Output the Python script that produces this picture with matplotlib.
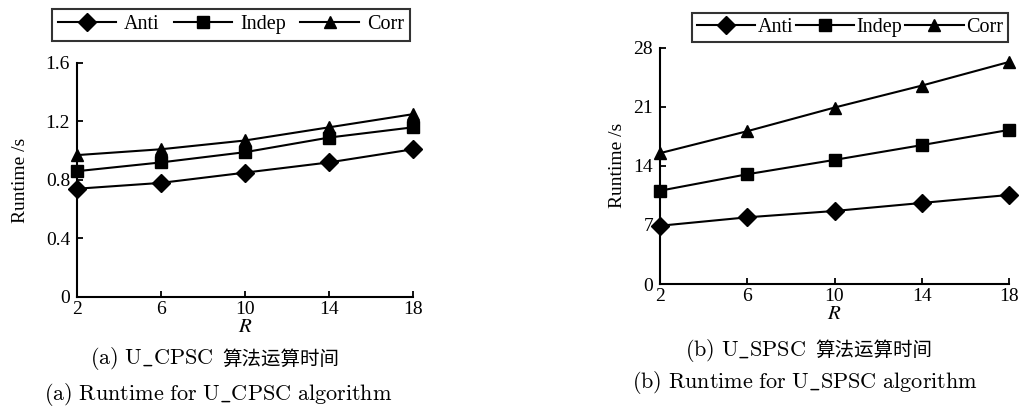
import numpy as np
import matplotlib
matplotlib.use("Agg")
import matplotlib.pyplot as plt

plt.rcParams['font.family'] = ['Liberation Serif', 'Noto Sans CJK SC', 'DejaVu Sans']
plt.rcParams['mathtext.fontset'] = 'stix'

R = [2, 6, 10, 14, 18]
series_names = ["Anti", "Indep", "Corr"]

# U_CPSC runtime (s)
cpsc_anti = [0.74, 0.78, 0.85, 0.92, 1.01]
cpsc_indep = [0.86, 0.92, 0.99, 1.09, 1.16]
cpsc_corr = [0.97, 1.01, 1.07, 1.16, 1.25]

# U_SPSC runtime (s)
spsc_anti = [6.9, 7.9, 8.65, 9.6, 10.55]
spsc_indep = [11.05, 13.0, 14.7, 16.45, 18.25]
spsc_corr = [15.5, 18.1, 20.9, 23.5, 26.3]

cpsc_yticks = [0, 0.4, 0.8, 1.2, 1.6]
cpsc_ylabels = ["0", "0.4", "0.8", "1.2", "1.6"]
spsc_yticks = [0, 7, 14, 21, 28]

markers = ['D', 's', '^']


def draw_panel(ax, data, yticks, ylabels, ylim):
    lines = []
    for vals, m in zip(data, markers):
        ln, = ax.plot(R, vals, color='black', lw=1.5, marker=m, markersize=9,
                      clip_on=False, zorder=3)
        lines.append(ln)
    ax.set_xlim(2, 18)
    ax.set_ylim(*ylim)
    ax.set_xticks(R)
    ax.set_yticks(yticks)
    ax.set_yticklabels(ylabels)
    ax.spines['top'].set_visible(False)
    ax.spines['right'].set_visible(False)
    for s in ('left', 'bottom'):
        ax.spines[s].set_linewidth(1.5)
    ax.tick_params(direction='in', length=4, width=1.3, labelsize=14)
    ax.tick_params(axis='y', pad=5)
    ax.tick_params(axis='x', pad=3)
    ax.set_xlabel("$R$", fontsize=15, labelpad=0)
    ax.set_ylabel("Runtime /s", fontsize=14)
    return lines


fig = plt.figure(figsize=(10.19, 4.09), dpi=100)

ax1 = fig.add_axes([0.0756, 0.274, 0.3297, 0.572])
h1 = draw_panel(ax1, [cpsc_anti, cpsc_indep, cpsc_corr], cpsc_yticks, cpsc_ylabels, (0, 1.6))
ax1.yaxis.labelpad = 12

ax2 = fig.add_axes([0.6477, 0.3056, 0.3425, 0.578])
h2 = draw_panel(ax2, [spsc_anti, spsc_indep, spsc_corr], spsc_yticks,
                [str(t) for t in spsc_yticks], (0, 28))
ax2.yaxis.labelpad = 5

leg1 = fig.legend(h1, series_names, loc='center', bbox_to_anchor=(0.2265, 0.939),
                  ncol=3, fontsize=14.5, frameon=True, fancybox=False, edgecolor='black',
                  handlelength=2.9, handletextpad=0.4, columnspacing=0.7,
                  borderpad=0.3, borderaxespad=0)
leg1.get_frame().set_linewidth(1.5)

leg2 = fig.legend(h2, series_names, loc='center', bbox_to_anchor=(0.834, 0.932),
                  ncol=3, fontsize=14.5, frameon=True, fancybox=False, edgecolor='black',
                  handlelength=2.9, handletextpad=0.1, columnspacing=0.15,
                  borderpad=0.25, borderaxespad=0)
leg2.get_frame().set_linewidth(1.5)

# sub-figure captions: Latin part in Computer Modern, Chinese part in CJK font
cap = dict(va='center', fontsize=16, math_fontfamily='cm')
cjk = dict(ha='left', va='center', fontsize=14, family='Noto Sans CJK SC')
fig.text(213 / 1019, 1 - 359 / 409, r"$\mathrm{(a)\ U\_CPSC}$", ha='right', **cap)
fig.text(222 / 1019, 1 - 359 / 409, "算法运算时间", **cjk)
fig.text(218 / 1019, 1 - 395 / 409, r"$\mathrm{(a)\ Runtime\ for\ U\_CPSC\ algorithm}$",
         ha='center', **cap)

fig.text(806 / 1019, 1 - 350 / 409, r"$\mathrm{(b)\ U\_SPSC}$", ha='right', **cap)
fig.text(815 / 1019, 1 - 350 / 409, "算法运算时间", **cjk)
fig.text(805 / 1019, 1 - 383 / 409, r"$\mathrm{(b)\ Runtime\ for\ U\_SPSC\ algorithm}$",
         ha='center', **cap)

fig.savefig("out.png", dpi=100)
